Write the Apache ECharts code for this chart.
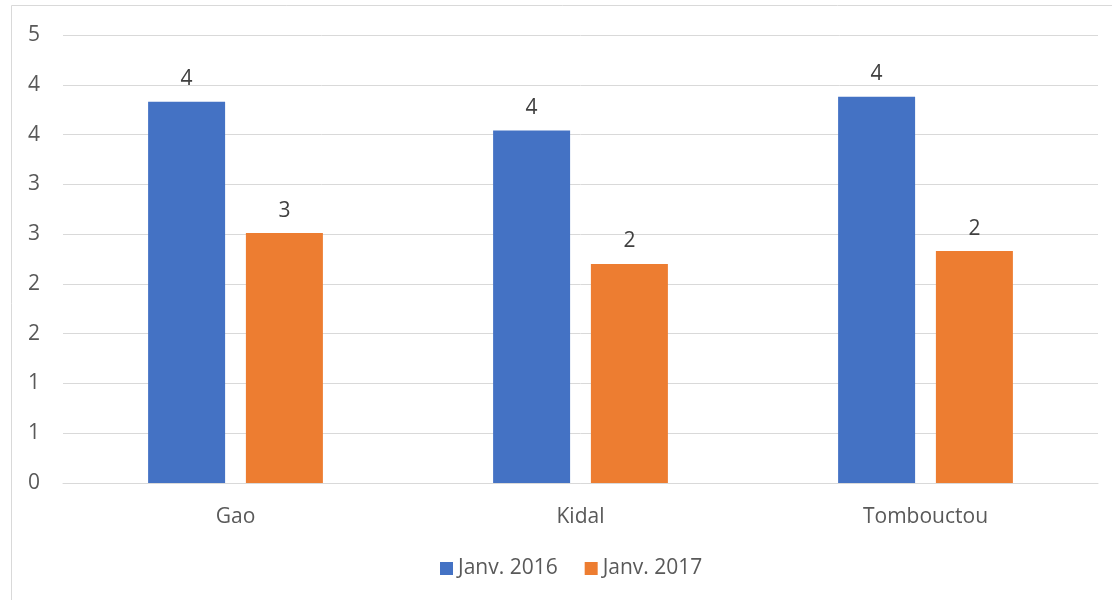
<!DOCTYPE html>
<html>
<head>
<meta charset="utf-8">
<script src="https://cdn.jsdelivr.net/npm/echarts@6/dist/echarts.min.js"></script>
<style>html,body{margin:0;padding:0;background:#fff}#c{width:1112px;height:600px}</style>
</head>
<body>
<div id="c"></div>
<script>
const categories = ['Gao', 'Kidal', 'Tombouctou'];
const seriesNames = ['Janv. 2016', 'Janv. 2017'];
const values2016 = [3.83, 3.54, 3.88];
const values2017 = [2.51, 2.20, 2.33];
const yMin = 0, yMax = 4.5, yStep = 0.5;

const FONT = '"Open Sans", "Liberation Sans", sans-serif';
const TXT = '#595959';
const FS = 21;
const chart = echarts.init(document.getElementById('c'), null, {renderer: 'canvas'});
const lbl = {show: true, position: 'top', distance: 12, color: '#404040', fontSize: FS, fontFamily: FONT,
  formatter: p => String(Math.round(p.value))};
chart.setOption({
  animation: false,
  color: ['#4472C4', '#ED7D31'],
  graphic: [{type: 'rect', shape: {x: 11.5, y: 5.5, width: 1110, height: 610}, style: {fill: 'none', stroke: '#d9d9d9', lineWidth: 1}, silent: true}],
  grid: {left: 63, right: 14, top: 35, bottom: 117, containLabel: false},
  legend: {top: 553, left: 435, itemWidth: 13, itemHeight: 13, itemGap: 27, icon: 'rect',
    textStyle: {color: TXT, fontSize: FS, fontFamily: FONT}, data: seriesNames},
  xAxis: {type: 'category', data: categories,
    axisLine: {show: true, lineStyle: {color: '#d9d9d9', width: 1}}, axisTick: {show: false},
    axisLabel: {color: TXT, fontSize: FS, fontFamily: FONT, margin: 24}},
  yAxis: {type: 'value', min: yMin, max: yMax, interval: yStep,
    axisLine: {show: false}, axisTick: {show: false},
    splitLine: {lineStyle: {color: '#d9d9d9', width: 1}},
    axisLabel: {color: TXT, fontSize: FS, fontFamily: FONT, margin: 23, formatter: v => String(Math.round(v))}},
  series: [
    {name: seriesNames[0], type: 'bar', data: values2016, barWidth: 77, barGap: '27%', label: lbl},
    {name: seriesNames[1], type: 'bar', data: values2017, barWidth: 77, barGap: '27%', label: lbl}
  ]
});
</script>
</body>
</html>
